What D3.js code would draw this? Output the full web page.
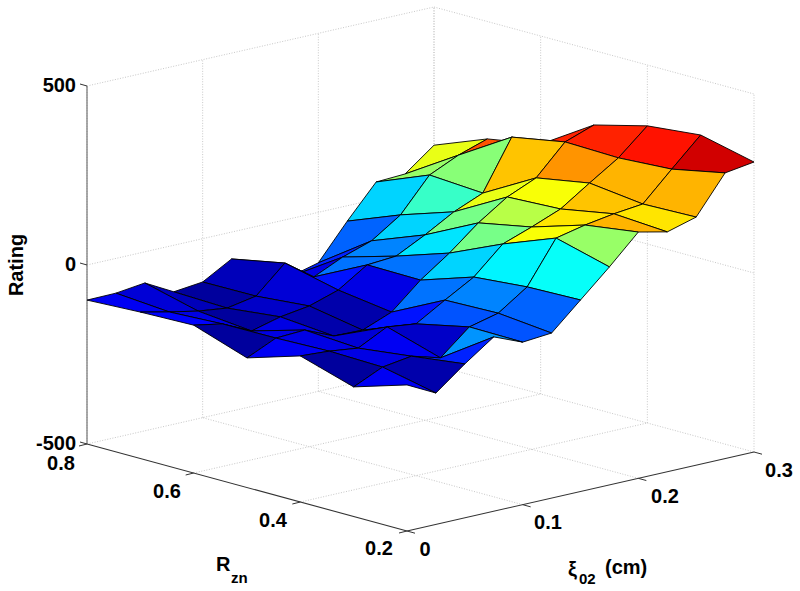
<!DOCTYPE html>
<html><head><meta charset="utf-8">
<style>html,body{margin:0;padding:0;background:#fff}svg{display:block}text{font-family:"Liberation Sans",Arial,sans-serif;font-weight:bold;font-size:20px;fill:#000}</style>
<script src="https://cdn.jsdelivr.net/npm/d3@7"></script></head><body>
<svg id="c" width="800" height="591"></svg>
<script>
const xiValues=[0,0.025,0.05,0.075,0.1,0.125,0.15,0.175,0.2,0.225,0.25,0.275,0.3];
const rznValues=[0.2,0.3,0.4,0.5,0.6,0.7,0.8];
const rating02=[-92,-133,-70,-13,-46,-39,35,109,188,170,193,298,310];
const rating03=[-138,-101,-89,-112,-44,-24,31,149,167,180,189,268,345];
const rating04=[-92,-97,-107,-66,-76,-28,18,92,121,153,207,259,330];
const rating05=[-138,-101,-97,-132,-134,-102,-31,26,92,146,181,263,292];
const rating06=[-87,-102,-140,-119,-107,-81,-29,-23,18,64,98,236,198];
const rating07=[-91,-109,-125,-135,-120,-46,-103,-66,-39,15,108,145,172];
const rating08=[-98,-97,-87,-130,-121,-75,-152,-162,-141,-43,48,52,114];
const ratingRows=[rating02,rating03,rating04,rating05,rating06,rating07,rating08];
const xiTicks=[0,0.1,0.2,0.3], rznTicks=[0.2,0.4,0.6,0.8], zTicks=[-500,0,500];
const colorDomain=[-150,340];

const svg=d3.select('#c');
// oblique projection of the MATLAB axes box, built from linear scales
const xiX=d3.scaleLinear().domain([0,0.3]).range([0,347]);
const xiY=d3.scaleLinear().domain([0,0.3]).range([0,-79]);
const rX=d3.scaleLinear().domain([0.2,0.8]).range([0,-320]);
const rY=d3.scaleLinear().domain([0.2,0.8]).range([0,-87]);
const zY=d3.scaleLinear().domain([-500,500]).range([0,-358]);
const P=(xi,r,z)=>[407+xiX(xi)+rX(r),531+xiY(xi)+rY(r)+zY(z)];
const jet=d3.scaleLinear().domain([0,0.125,0.375,0.625,0.875,1]).range(['#00008f','#0000ff','#00ffff','#ffff00','#ff0000','#800000']).clamp(true);
const colorT=d3.scaleLinear().domain(colorDomain).range([0,1]).clamp(true);
const color=z=>jet(Math.min(63,Math.floor(colorT(z)*64))/63);
const line=(a,b,col,w,dash)=>svg.append('line').attr('x1',a[0]).attr('y1',a[1]).attr('x2',b[0]).attr('y2',b[1]).attr('stroke',col).attr('stroke-width',w).attr('stroke-dasharray',dash||null);

const gridCol='#c8c8c8', dash='1 1.6';
const xiMax=0.3,xiMin=0,rMin=0.2,rMax=0.8;
// back walls + floor grid
xiTicks.forEach(t=>{
  line(P(t,rMax,-500),P(t,rMax,500),gridCol,1,dash);
  if(t>xiMin&&t<xiMax)line(P(t,rMin,-500),P(t,rMax,-500),gridCol,1,dash);
});
rznTicks.forEach(t=>{
  line(P(xiMax,t,-500),P(xiMax,t,500),gridCol,1,dash);
  if(t>rMin&&t<rMax)line(P(xiMin,t,-500),P(xiMax,t,-500),gridCol,1,dash);
});
zTicks.forEach(t=>{
  line(P(xiMin,rMax,t),P(xiMax,rMax,t),gridCol,1,dash);
  line(P(xiMax,rMax,t),P(xiMax,rMin,t),gridCol,1,dash);
});
// solid axes
const axisCol='#333';
line(P(xiMin,rMax,-500),P(xiMin,rMin,-500),axisCol,1.1);
line(P(xiMin,rMin,-500),P(xiMax,rMin,-500),axisCol,1.1);
line(P(xiMin,rMax,-500),P(xiMin,rMax,500),'#666',1.1);
// ticks
rznTicks.forEach(t=>{const a=P(xiMin,t,-500);line(a,[a[0]-8,a[1]+2],axisCol,1);});
xiTicks.forEach(t=>{const a=P(t,rMin,-500);line(a,[a[0]+8,a[1]+2.2],axisCol,1);});
zTicks.forEach(t=>{const a=P(xiMin,rMax,t);line(a,[a[0]-7,a[1]-2],axisCol,1);});

// surface, painted back to front; each face takes the colour of its lowest-index corner
const faces=[];
for(let j=rznValues.length-2;j>=0;j--)for(let i=xiValues.length-2;i>=0;i--){faces.push({i,j});}
svg.append('g').selectAll('path').data(faces).join('path')
  .attr('d',d=>{const c=[[d.i,d.j],[d.i+1,d.j],[d.i+1,d.j+1],[d.i,d.j+1]];
    return 'M'+c.map(([a,b])=>P(xiValues[a],rznValues[b],ratingRows[b][a]).join(',')).join('L')+'Z';})
  .attr('fill',d=>color(ratingRows[d.j][d.i]))
  .attr('stroke','#000').attr('stroke-width',0.9).attr('stroke-linejoin','round');

// labels
const txt=(x,y,s,anchor,size)=>svg.append('text').attr('x',x).attr('y',y).attr('text-anchor',anchor||'middle').style('font-size',(size||20)+'px').text(s);
const zLabelPos=d3.scaleLinear().domain([-500,500]).range([450,92]);
zTicks.forEach(t=>txt(76,zLabelPos(t),String(t),'end'));
const rzLabels=[['0.2',379,555],['0.4',273,527],['0.6',167,498],['0.8',61,470]];
rznTicks.forEach((t,k)=>txt(rzLabels[k][1],rzLabels[k][2],String(t)));
const xiLabels=[['0',425,556],['0.1',548,529],['0.2',665,503],['0.3',779,477]];
xiTicks.forEach((t,k)=>txt(xiLabels[k][1],xiLabels[k][2],String(t)));
txt(216,571,'R','start'); txt(231,583,'zn','start',15);
txt(568,576,'ξ','start'); txt(579,584,'02','start',15); txt(605,574,'(cm)','start');
svg.append('text').attr('transform','translate(23,265) rotate(-90)').attr('text-anchor','middle').text('Rating');
</script></body></html>
